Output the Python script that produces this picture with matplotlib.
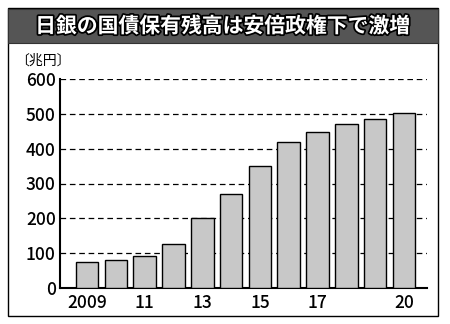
import matplotlib
matplotlib.use("Agg")
import matplotlib.pyplot as plt
import matplotlib.patheffects as pe
from matplotlib.patches import Rectangle

plt.rcParams['font.family'] = ['Noto Sans CJK JP', 'DejaVu Sans']

# data
years = [2009, 2010, 2011, 2012, 2013, 2014, 2015, 2016, 2017, 2018, 2019, 2020]
holdings = [75, 79, 91, 125, 202, 271, 349, 420, 447, 472, 486, 502]
tick_years = [2009, 2011, 2013, 2015, 2017, 2020]
tick_labels = ['2009', '11', '13', '15', '17', '20']
title = '日銀の国債保有残高は安倍政権下で激増'
unit = '〔兆円〕'

fig = plt.figure(figsize=(4.5, 3.24), dpi=100)
W, H = 450, 324

# outer frame and title bar
fig.patches.append(Rectangle((8 / W, 1 - 316 / H), 430 / W, 308 / H,
                             transform=fig.transFigure, fill=False,
                             edgecolor='black', linewidth=1.0))
fig.patches.append(Rectangle((8 / W, 1 - 43 / H), 430 / W, 34 / H,
                             transform=fig.transFigure, facecolor='#555555',
                             edgecolor='#333333', linewidth=0.8))
fig.text(223 / W, 1 - 26 / H, title, color='white', fontsize=15,
         fontweight='bold', ha='center', va='center',
         path_effects=[pe.withStroke(linewidth=2.5, foreground='black')])

ax = fig.add_axes([60 / W, 36 / H, 367 / W, 209 / H])
ax.bar(years, holdings, width=0.78, color='#c8c8c8', edgecolor='black',
       linewidth=1.0, zorder=3)

ax.set_xlim(2008.06, 2020.8)
ax.set_ylim(0, 600)
ax.set_yticks(range(0, 601, 100))
ax.set_xticks(tick_years)
ax.set_xticklabels(tick_labels)
ax.tick_params(axis='both', length=0, labelsize=12.5, pad=3)
ax.tick_params(axis='x', pad=4)
for lab in ax.get_xticklabels() + ax.get_yticklabels():
    lab.set_fontweight('medium')
ax.yaxis.grid(True, linestyle=(0, (4.5, 3)), color='black', linewidth=0.9)
ax.set_axisbelow(True)
for s in ['top', 'right']:
    ax.spines[s].set_visible(False)
ax.spines['left'].set_linewidth(1.5)
ax.spines['bottom'].set_linewidth(1.5)

fig.text(15 / W, 1 - 61 / H, unit, fontsize=10, ha='left', va='center')

fig.savefig('out.png', dpi=100, facecolor='white')
